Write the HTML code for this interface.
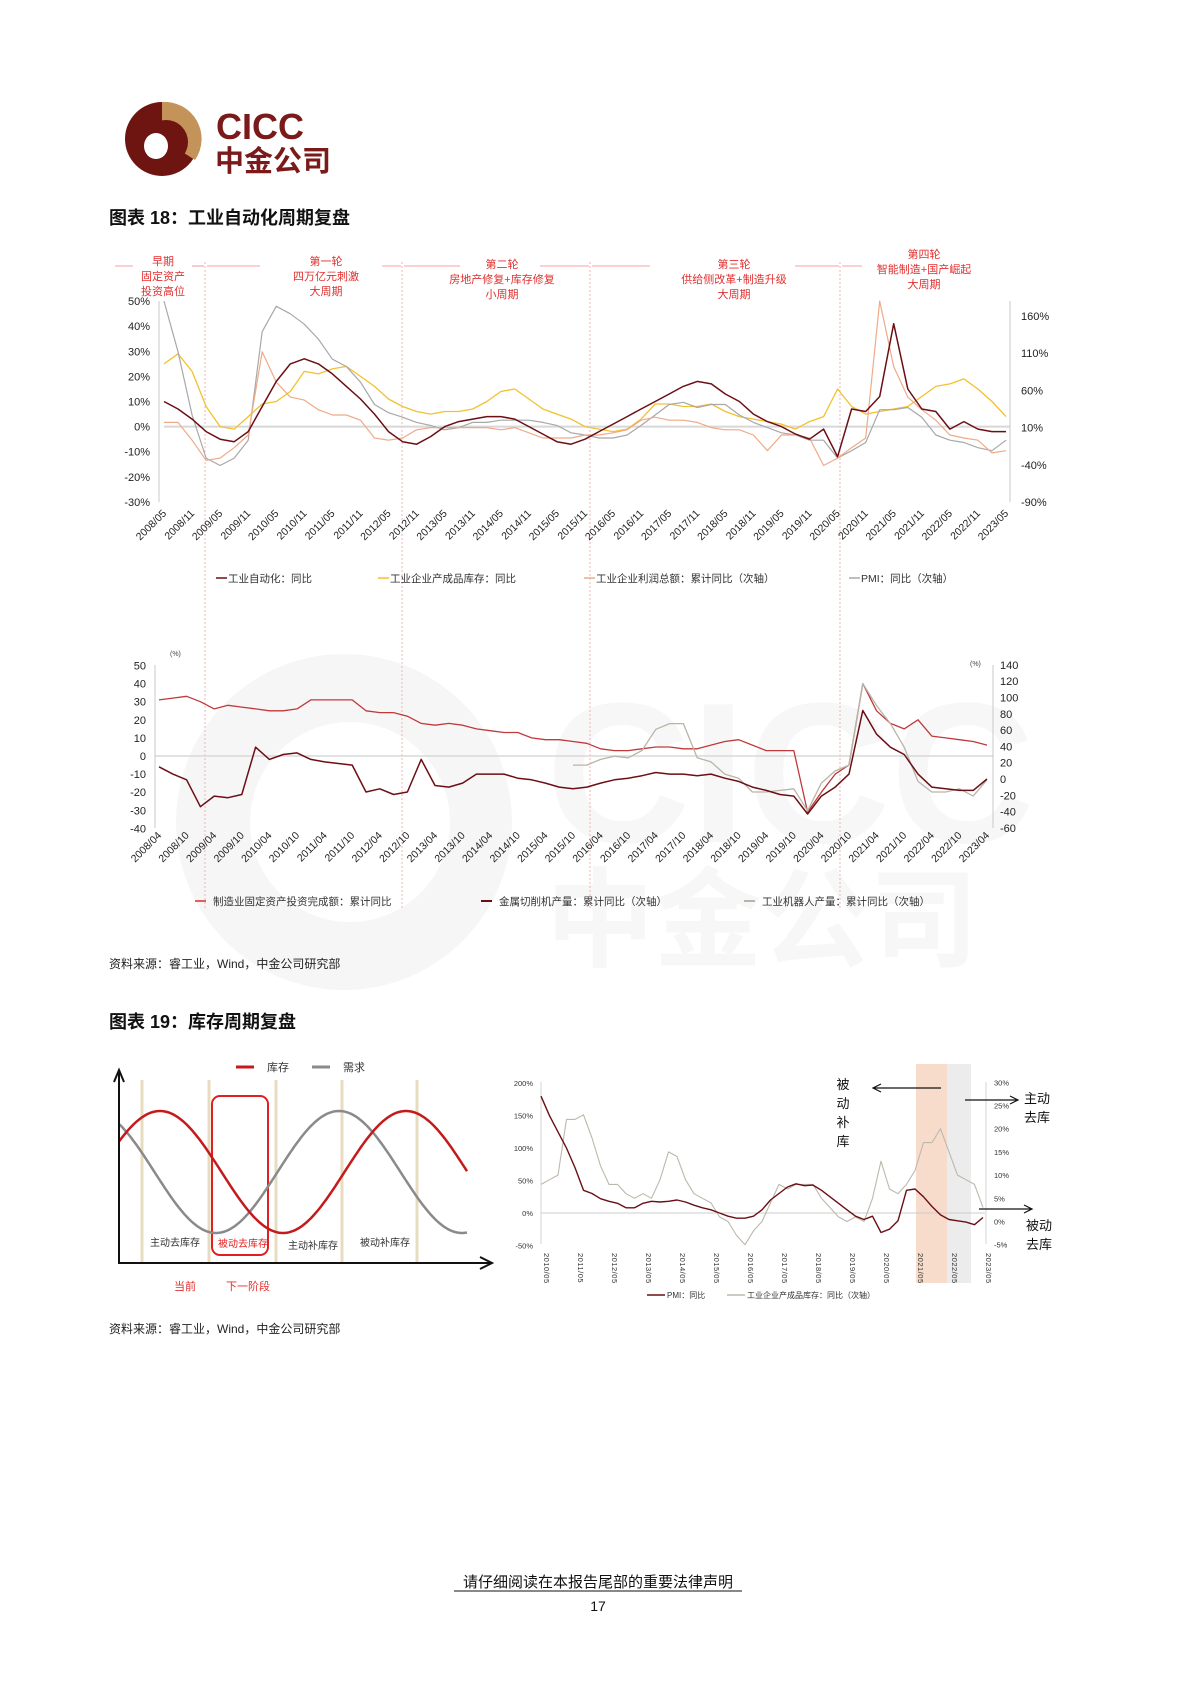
<!DOCTYPE html>
<html><head><meta charset="utf-8">
<style>
html,body{margin:0;padding:0;background:#fff;}
body{width:1190px;height:1685px;position:relative;overflow:hidden;font-family:"Liberation Sans","Noto Sans CJK SC",sans-serif;}
svg text{font-family:"Liberation Sans","Noto Sans CJK SC",sans-serif;}
</style></head>
<body>
<svg id="page" width="1190" height="1685" viewBox="0 0 1190 1685" xmlns="http://www.w3.org/2000/svg">
  <!-- watermark -->
  <g fill="#f6f6f6">
    <circle cx="344" cy="822" r="168"/>
    <circle cx="350" cy="822" r="100" fill="#ffffff"/>
    <text x="546" y="842" font-size="200" font-weight="bold" fill="#f7f7f7">CICC</text>
    <text x="546" y="958" font-size="108" font-weight="bold" fill="#f7f7f7" font-family="Liberation Sans, Noto Sans CJK SC, sans-serif">中金公司</text>
  </g>
  <!-- logo -->
  <g>
    <circle cx="162" cy="139" r="37" fill="#6e1512"/>
    <path d="M162 102 A37 37 0 0 1 195 160 L162 139 Z" fill="#c4935a"/>
    <circle cx="166" cy="142" r="22" fill="#6e1512"/>
    <ellipse cx="156" cy="146" rx="12" ry="13" fill="#ffffff"/>
    <text x="216" y="139" font-size="36" font-weight="bold" fill="#7a1a1a">CICC</text>
    <text x="215" y="171" font-size="29" font-weight="bold" fill="#7a1a1a">中金公司</text>
  </g>
  <text x="109" y="224" font-size="18" font-weight="bold" fill="#111">图表 18：工业自动化周期复盘</text>
  <g id="c1"></g>
  <g id="c2"></g>
  <text x="109" y="968" font-size="12" fill="#222">资料来源：睿工业，Wind，中金公司研究部</text>
  <text x="109" y="1028" font-size="18" font-weight="bold" fill="#111">图表 19：库存周期复盘</text>
  <g id="c3"></g>
  <g id="c4"></g>
  <text x="109" y="1333" font-size="12" fill="#222">资料来源：睿工业，Wind，中金公司研究部</text>
  <text x="598" y="1587" font-size="15" fill="#111" text-anchor="middle">请仔细阅读在本报告尾部的重要法律声明</text>
  <line x1="454" y1="1591" x2="742" y2="1591" stroke="#111" stroke-width="1"/>
  <text x="598" y="1611" font-size="14" fill="#111" text-anchor="middle">17</text>
</svg>
<script>
// ===== Chart 18 top: quarterly from 2008/05 to 2023/05 =====
const c1Ticks = ["2008/05","2008/11","2009/05","2009/11","2010/05","2010/11","2011/05","2011/11","2012/05","2012/11","2013/05","2013/11","2014/05","2014/11","2015/05","2015/11","2016/05","2016/11","2017/05","2017/11","2018/05","2018/11","2019/05","2019/11","2020/05","2020/11","2021/05","2021/11","2022/05","2022/11","2023/05"];
const c1LeftTicks = [50,40,30,20,10,0,-10,-20,-30];
const c1RightTicks = [160,110,60,10,-40,-90];
const c1Auto = [10,7,3, -2,-5,-6,-2, 8,18,25,27, 25,21,16,11, 5,-2,-6,-7, -4,0,2,3, 4,4,3,0, -3,-6,-7,-5, -2,1,4,7, 10,13,16,18, 17,13,10,5, 2,0,-3,-5, -1,-12,7,6, 12,41,15,7, 6,-1,2,-1, -2,-2];
const c1Inventory = [25,29,22, 8,0,-1,4, 9,10,14,22, 21,23,24,20, 16,11,8,6, 5,6,6,7, 10,14,15,11, 7,5,3,0, -1,-2,-1,3, 9,9,8,8, 9,6,4,3, 2,1,-1,2, 4,15,8,5, 6,7,8,12, 16,17,19,15, 10,4];
const c1Profit = [17,17,-7, -34,-31,-17,0, 112,71,51,47, 34,27,27,20, -4,-7,-4,7, 10,10,10,10, 10,7,10,3, -4,-4,-4,0, 0,3,7,20, 24,20,20,17, 10,7,7,0, -21,0,0,-4, -41,-31,-17,-4, 180,92,51,34, 20,0,-4,-7, -24,-21];
const c1Pmi = [180,112,27, -31,-41,-31,-7, 139,173,163,149, 129,102,92,71, 41,30,24,17, 13,7,10,17, 17,20,20,20, 17,13,3,0, -4,-4,0,13, 27,41,44,37, 41,41,27,17, 10,3,0,-7, -7,-31,-21,-10, 34,34,37,24, 0,-7,-10,-17, -21,-7];

// ===== Chart 18 bottom: quarterly from 2008/04 to 2023/04 =====
const c2Ticks = ["2008/04","2008/10","2009/04","2009/10","2010/04","2010/10","2011/04","2011/10","2012/04","2012/10","2013/04","2013/10","2014/04","2014/10","2015/04","2015/10","2016/04","2016/10","2017/04","2017/10","2018/04","2018/10","2019/04","2019/10","2020/04","2020/10","2021/04","2021/10","2022/04","2022/10","2023/04"];
const c2LeftTicks = [50,40,30,20,10,0,-10,-20,-30,-40];
const c2RightTicks = [140,120,100,80,60,40,20,0,-20,-40,-60];
const c2Fai = [31,32,33, 30,26,28,27, 26,25,25,26, 31,31,31,31, 25,24,24,22, 18,17,18,17, 15,14,13,13, 10,9,9,8, 7,4,3,3, 4,5,5,4, 4,6,8,9, 6,3,3,3, -31,-20,-10,-5, 40,25,18,15, 20,11,10,9, 8,6];
const c2Metal = [15,6,-1, -34,-21,-23,-19, 39,24,30,32, 24,21,19,17, -16,-12,-19,-16, 24,-8,-10,-5, 6,6,6,1, -1,-5,-10,-12, -10,-5,-1,1, 4,8,6,6, 4,6,1,-3, -10,-14,-19,-21, -43,-21,-10,6, 84,55,39,30, 6,-10,-12,-14, -14,0];
const c2Robot = [null,null,null, null,null,null,null, null,null,null,null, null,null,null,null, null,null,null,null, null,null,null,null, null,null,null,null, null,null,null,17, 17,24,28,26, 35,61,68,68, 26,21,6,1, -16,-16,-14,-12, -39,-5,10,17, 117,90,68,39, -3,-16,-16,-12, -21,-1];

// ===== Chart 19 right: quarterly from 2010/05 to 2023/05 =====
const c4Ticks = ["2010/05","2011/05","2012/05","2013/05","2014/05","2015/05","2016/05","2017/05","2018/05","2019/05","2020/05","2021/05","2022/05","2023/05"];
const c4LeftTicks = [200,150,100,50,0,-50];
const c4RightTicks = [30,25,20,15,10,5,0,-5];
const c4Pmi = [180,150,125, 100,70,35,30, 22,18,15,8, 8,15,18,17, 18,20,17,12, 8,5,0,-5, -8,-8,-5,5, 20,30,40,45, 42,43,35,25, 15,5,-5,-10, -5,-30,-25,-12, 35,37,25,10, -3,-10,-12,-14, -18,-7];
const c4Inventory = [8,9,10, 22,22,23,18, 12,8,8,6, 5,6,5,9, 15,14,9,6, 5,4,1,0, -3,-5,-2,0, 4,8,7,8, 8,8,5,3, 1,0,1,0, 5,13,7,6, 8,11,17,17, 20,15,10,9, 8,3];

const NS = "http://www.w3.org/2000/svg";
function mk(parent, tag, attrs, txt){
  const el = document.createElementNS(NS, tag);
  for (const k in attrs) el.setAttribute(k, attrs[k]);
  if (txt !== undefined) el.textContent = txt;
  parent.appendChild(el);
  return el;
}
function series(parent, arr, xf, yf, color, w, name){
  let d = "", pen = false;
  arr.forEach((v,i)=>{
    if (v === null) { pen = false; return; }
    d += (pen ? "L" : "M") + xf(i).toFixed(1) + " " + yf(v).toFixed(1) + " ";
    pen = true;
  });
  const el = mk(parent, "path", {d:d, fill:"none", stroke:color, "stroke-width":w, "stroke-linejoin":"round"});
  
  
  return el;
}

// ---------- Chart 1 ----------
(function(){
  const g = document.getElementById('c1');
  
  
  const x0 = 164, x1 = 1006, n = c1Auto.length;
  const xf = i => x0 + i*(x1-x0)/(n-1);
  const yL = v => 426.6 - v*2.51;
  const yR = v => 427.6 - (v-10)*0.744;
  [205,402,590,840].forEach((x,k)=>{
    const l = mk(g, "line", {x1:x, y1:262, x2:x, y2:910, stroke:"#f2a0a0", "stroke-width":0.8, "stroke-dasharray":"2,2"});
    
    
  });
  const segs = [[115,133],[192,204],[207,260],[382,401],[404,460],[540,589],[592,650],[795,839],[842,862]];
  segs.forEach(s=>{
    const l = mk(g, "line", {x1:s[0], y1:266, x2:s[1], y2:266, stroke:"#f08080", "stroke-width":0.8});
    
    
  });
  const phases = [
    [163,261,["早期","固定资产","投资高位"]],
    [326,261,["第一轮","四万亿元刺激","大周期"]],
    [502,264,["第二轮","房地产修复+库存修复","小周期"]],
    [734,264,["第三轮","供给侧改革+制造升级","大周期"]],
    [924,254,["第四轮","智能制造+国产崛起","大周期"]]
  ];
  phases.forEach(p=>{
    p[2].forEach((t,j)=>{
      const el = mk(g, "text", {x:p[0], y:p[1]+j*15+4, "font-size":11, fill:"#e03030", "text-anchor":"middle"}, t);
      
      
    });
  });
  const zl = mk(g, "line", {x1:x0, y1:yL(0), x2:1010, y2:yL(0), stroke:"#d8d8d8", "stroke-width":2});
  
  
  const la = mk(g, "line", {x1:159, y1:301, x2:159, y2:502, stroke:"#bbb", "stroke-width":0.8});
  
  
  const ra = mk(g, "line", {x1:1010, y1:301, x2:1010, y2:502, stroke:"#bbb", "stroke-width":0.8});
  
  
  c1LeftTicks.forEach(v=>{
    const el = mk(g, "text", {x:150, y:yL(v)+4, "font-size":11, fill:"#222", "text-anchor":"end"}, v+"%");
    
    
  });
  c1RightTicks.forEach(v=>{
    const el = mk(g, "text", {x:1021, y:yR(v)+4, "font-size":11, fill:"#222"}, v+"%");
    
    
  });
  c1Ticks.forEach((t,k)=>{
    const x = xf(k*2);
    const el = mk(g, "text", {x:x+3, y:514, "font-size":10.5, fill:"#222", "text-anchor":"end", transform:`rotate(-45 ${x+3} 514)`}, t);
    
    
  });
  series(g, c1Inventory, xf, yL, "#f2c12e", 1.3, "inventory-yoy-line");
  series(g, c1Pmi, xf, yR, "#a8a8a8", 1.2, "pmi-yoy-line");
  series(g, c1Profit, xf, yR, "#eeaa88", 1.2, "profit-yoy-line");
  series(g, c1Auto, xf, yL, "#6b0f15", 1.5, "automation-yoy-line");
  const leg = [[216,"#6b0f15","工业自动化：同比"],[378,"#f2c12e","工业企业产成品库存：同比"],[584,"#eeaa88","工业企业利润总额：累计同比（次轴）"],[849,"#a8a8a8","PMI：同比（次轴）"]];
  leg.forEach(l=>{
    const ln = mk(g, "line", {x1:l[0], y1:578, x2:l[0]+11, y2:578, stroke:l[1], "stroke-width":1.5});
    
    
    const tx = mk(g, "text", {x:l[0]+12, y:582, "font-size":10.5, fill:"#333"}, l[2]);
    
    
  });
})();

// ---------- Chart 2 ----------
(function(){
  const g = document.getElementById('c2');
  
  
  const x0 = 159, x1 = 987, n = c2Fai.length;
  const xf = i => x0 + i*(x1-x0)/(n-1);
  const yL = v => 756 - v*1.81;
  const yR = v => 779 - v*0.815;
  const zl = mk(g, "line", {x1:x0-4, y1:yL(0), x2:993, y2:yL(0), stroke:"#d8d8d8", "stroke-width":1.5});
  
  
  const la = mk(g, "line", {x1:155, y1:665, x2:155, y2:828, stroke:"#bbb", "stroke-width":0.8});
  
  
  const ra = mk(g, "line", {x1:993, y1:665, x2:993, y2:828, stroke:"#bbb", "stroke-width":0.8});
  
  
  c2LeftTicks.forEach(v=>{
    const el = mk(g, "text", {x:146, y:yL(v)+4, "font-size":11, fill:"#222", "text-anchor":"end"}, v);
    
    
  });
  c2RightTicks.forEach(v=>{
    const el = mk(g, "text", {x:1000, y:yR(v)+4, "font-size":11, fill:"#222"}, v);
    
    
  });
  const u1 = mk(g, "text", {x:170, y:656, "font-size":7, fill:"#444"}, "(%)");
  
  
  const u2 = mk(g, "text", {x:970, y:666, "font-size":7, fill:"#444"}, "(%)");
  
  
  c2Ticks.forEach((t,k)=>{
    const x = xf(k*2);
    const el = mk(g, "text", {x:x+3, y:836, "font-size":10.5, fill:"#222", "text-anchor":"end", transform:`rotate(-45 ${x+3} 836)`}, t);
    
    
  });
  series(g, c2Fai, xf, yL, "#c0393b", 1.3, "manufacturing-fai-line");
  series(g, c2Robot, xf, yR, "#b8b5a8", 1.3, "robot-output-line");
  series(g, c2Metal, xf, yR, "#6b0f15", 1.5, "metal-cutting-line");
  const leg = [[195,"#e06060","制造业固定资产投资完成额：累计同比"],[481,"#6b0f15","金属切削机产量：累计同比（次轴）"],[744,"#b8b5a8","工业机器人产量：累计同比（次轴）"]];
  leg.forEach(l=>{
    const ln = mk(g, "line", {x1:l[0], y1:901, x2:l[0]+11, y2:901, stroke:l[1], "stroke-width":2});
    
    
    const tx = mk(g, "text", {x:l[0]+18, y:905, "font-size":10.5, fill:"#333"}, l[2]);
    
    
  });
})();

// ---------- Chart 19 left: schematic ----------
(function(){
  const g = document.getElementById('c3');
  
  
  [142,209,276,342,417].forEach(x=>{
    const l = mk(g, "line", {x1:x, y1:1080, x2:x, y2:1262, stroke:"#e8dcc0", "stroke-width":3});
    
    
  });
  const box = mk(g, "rect", {x:212, y:1096, width:56, height:159, rx:8, fill:"none", stroke:"#e02020", "stroke-width":2});
  
  
  let dr = "", dg = "";
  for (let x = 119; x <= 467; x += 2) {
    const yr = 1172 - 61*Math.cos(2*Math.PI*(x-160)/246);
    const yg = 1172 + 61*Math.cos(2*Math.PI*(x-216)/246);
    dr += (x===119?"M":"L") + x + " " + yr.toFixed(1) + " ";
    dg += (x===119?"M":"L") + x + " " + yg.toFixed(1) + " ";
  }
  const pg = mk(g, "path", {d:dg, fill:"none", stroke:"#8a8a8a", "stroke-width":2.5});
  
  
  const pr = mk(g, "path", {d:dr, fill:"none", stroke:"#c41a1a", "stroke-width":2.5});
  
  
  const ya = mk(g, "path", {d:"M119 1264 L119 1072 M114 1082 L119 1070 L124 1082", fill:"none", stroke:"#111", "stroke-width":2});
  
  
  const xa = mk(g, "path", {d:"M118 1263 L490 1263 M480 1257 L492 1263 L480 1269", fill:"none", stroke:"#111", "stroke-width":2});
  
  
  const l1 = mk(g, "line", {x1:236, y1:1067, x2:254, y2:1067, stroke:"#c41a1a", "stroke-width":3});
  
  
  const t1 = mk(g, "text", {x:267, y:1071, "font-size":11, fill:"#333"}, "库存");
  
  
  const l2 = mk(g, "line", {x1:312, y1:1067, x2:330, y2:1067, stroke:"#8a8a8a", "stroke-width":3});
  
  
  const t2 = mk(g, "text", {x:343, y:1071, "font-size":11, fill:"#333"}, "需求");
  
  
  [[175,1246,"主动去库存","#333"],[243,1247,"被动去库存","#e02020"],[313,1249,"主动补库存","#333"],[385,1246,"被动补库存","#333"]].forEach(p=>{
    const el = mk(g, "text", {x:p[0], y:p[1], "font-size":10, fill:p[3], "text-anchor":"middle"}, p[2]);
    
    
  });
  const a = mk(g, "text", {x:185, y:1290, "font-size":11, fill:"#e03030", "text-anchor":"middle"}, "当前");
  
  
  const b = mk(g, "text", {x:248, y:1290, "font-size":11, fill:"#e03030", "text-anchor":"middle"}, "下一阶段");
  
  
})();

// ---------- Chart 19 right ----------
(function(){
  const g = document.getElementById('c4');
  
  
  const x0 = 541, x1 = 983, n = c4Pmi.length;
  const xf = i => x0 + i*(x1-x0)/(n-1);
  const yL = v => 1213 - v*0.649;
  const yR = v => 1221.5 - v*4.64;
  const s1 = mk(g, "rect", {x:916, y:1064, width:31, height:219, fill:"#f8dccb"});
  
  
  const s2 = mk(g, "rect", {x:947, y:1064, width:24, height:219, fill:"#ececec"});
  
  
  const zl = mk(g, "line", {x1:x0, y1:yL(0), x2:985, y2:yL(0), stroke:"#ccc", "stroke-width":1});
  
  
  const la = mk(g, "line", {x1:x0, y1:1082, x2:x0, y2:1244, stroke:"#ccc", "stroke-width":0.8});
  
  
  const ra = mk(g, "line", {x1:986, y1:1082, x2:986, y2:1244, stroke:"#ccc", "stroke-width":0.8});
  
  
  c4LeftTicks.forEach(v=>{
    const el = mk(g, "text", {x:533, y:yL(v)+3, "font-size":7.5, fill:"#333", "text-anchor":"end"}, v+"%");
    
    
  });
  c4RightTicks.forEach(v=>{
    const el = mk(g, "text", {x:994, y:yR(v)+3, "font-size":7.5, fill:"#333"}, v+"%");
    
    
  });
  c4Ticks.forEach((t,k)=>{
    const x = xf(k*4);
    const el = mk(g, "text", {x:x+3, y:1253, "font-size":7.5, fill:"#333", transform:`rotate(90 ${x+3} 1253)`, "letter-spacing":"0.5"}, t);
    
    
  });
  series(g, c4Inventory, xf, yR, "#bdb8ac", 1.1, "inventory-yoy-line");
  series(g, c4Pmi, xf, yL, "#6b0f15", 1.4, "pmi-yoy-line");
  const leg = [[647,"#6b0f15","PMI：同比"],[727,"#bdb8ac","工业企业产成品库存：同比（次轴）"]];
  leg.forEach(l=>{
    const ln = mk(g, "line", {x1:l[0], y1:1295, x2:l[0]+18, y2:1295, stroke:l[1], "stroke-width":1.5});
    
    
    const tx = mk(g, "text", {x:l[0]+20, y:1298, "font-size":8, fill:"#333"}, l[2]);
    
    
  });
  ["被","动","补","库"].forEach((c,j)=>{
    const el = mk(g, "text", {x:843, y:1089+j*19, "font-size":13, fill:"#111", "text-anchor":"middle"}, c);
    
    
  });
  const arrows = [["M941 1088 L874 1088 M881 1084 L873 1088 L881 1092","passive-restock-arrow"],["M965 1100 L1017 1100 M1010 1096 L1018 1100 L1010 1104","active-destock-arrow"],["M979 1209 L1031 1209 M1024 1205 L1032 1209 L1024 1213","passive-destock-arrow"]];
  arrows.forEach(a=>{
    const el = mk(g, "path", {d:a[0], fill:"none", stroke:"#111", "stroke-width":1.2});
    
    
  });
  [[1024,1103,"主动"],[1024,1122,"去库"],[1026,1230,"被动"],[1026,1249,"去库"]].forEach(p=>{
    const el = mk(g, "text", {x:p[0], y:p[1], "font-size":13, fill:"#111"}, p[2]);
    
    
  });
})();
</script>
</body></html>
